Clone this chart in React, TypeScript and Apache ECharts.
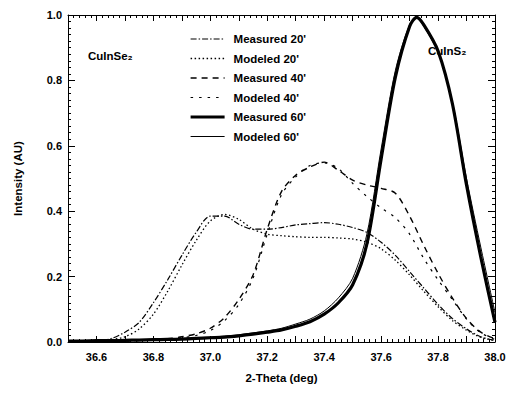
import React, { useEffect, useRef } from "react";
import * as echarts from "echarts";

const X = [
  36.5, 36.55, 36.6, 36.65, 36.7, 36.75, 36.8, 36.85, 36.9, 36.95, 37.0,
  37.05, 37.1, 37.15, 37.2, 37.25, 37.3, 37.35, 37.4, 37.45, 37.5,
  37.55, 37.6, 37.65, 37.7, 37.75, 37.8, 37.85, 37.9, 37.95, 38.0,
];
const X60 = [
  36.5, 36.55, 36.6, 36.65, 36.7, 36.75, 36.8, 36.85, 36.9, 36.95, 37.0,
  37.05, 37.1, 37.15, 37.2, 37.25, 37.3, 37.35, 37.4, 37.45, 37.5,
  37.55, 37.6, 37.65, 37.7, 37.725, 37.75, 37.8, 37.85, 37.9, 37.95, 38.0,
];

const measured20 = [
  0.0, 0.002, 0.004, 0.01, 0.03, 0.06, 0.12, 0.19, 0.265, 0.335, 0.385,
  0.385, 0.36, 0.345, 0.345, 0.35, 0.358, 0.362, 0.365, 0.36, 0.35,
  0.335, 0.305, 0.265, 0.215, 0.165, 0.115, 0.072, 0.04, 0.016, 0.005,
];
const modeled20 = [
  0.0, 0.001, 0.003, 0.007, 0.016, 0.04, 0.085, 0.155, 0.235, 0.31, 0.37,
  0.39, 0.375, 0.345, 0.33, 0.325, 0.322, 0.32, 0.32, 0.318, 0.315,
  0.305, 0.285, 0.25, 0.205, 0.155, 0.108, 0.066, 0.036, 0.014, 0.004,
];
const measured40 = [
  0.0, 0.0, 0.001, 0.002, 0.003, 0.005, 0.007, 0.01, 0.016, 0.025, 0.042,
  0.075, 0.13, 0.205, 0.345, 0.46, 0.51, 0.535, 0.55, 0.525, 0.495,
  0.48, 0.47, 0.455, 0.385, 0.295, 0.21, 0.135, 0.072, 0.03, 0.01,
];
const modeled40 = [
  0.0, 0.0, 0.001, 0.001, 0.002, 0.004, 0.006, 0.008, 0.013, 0.02, 0.035,
  0.065, 0.115, 0.195, 0.33, 0.45, 0.505, 0.54, 0.548, 0.53, 0.485,
  0.445, 0.41, 0.38, 0.33, 0.255, 0.19, 0.13, 0.07, 0.028, 0.008,
];
const measured60 = [
  0.003, 0.003, 0.004, 0.004, 0.005, 0.006, 0.007, 0.008, 0.009, 0.011, 0.013,
  0.015, 0.019, 0.024, 0.03, 0.037, 0.048, 0.062, 0.085, 0.12, 0.175,
  0.3, 0.56, 0.81, 0.965, 0.993, 0.97, 0.89, 0.73, 0.48, 0.26, 0.06,
];
const modeled60 = [
  0.004, 0.004, 0.005, 0.005, 0.006, 0.007, 0.008, 0.009, 0.011, 0.013, 0.015,
  0.018, 0.022, 0.028, 0.034, 0.042, 0.055, 0.07, 0.095, 0.135, 0.195,
  0.33, 0.59, 0.83, 0.97, 0.99, 0.965, 0.885, 0.735, 0.5, 0.29, 0.09,
];

const seriesNames = [
  "Measured 20'",
  "Modeled 20'",
  "Measured 40'",
  "Modeled 40'",
  "Measured 60'",
  "Modeled 60'",
];
const xTickLabels = ["36.6", "36.8", "37.0", "37.2", "37.4", "37.6", "37.8", "38.0"];

const FONT = "'Liberation Sans', 'DejaVu Sans', Arial, sans-serif";

export default function App() {
  const ref = useRef<HTMLDivElement>(null);
  useEffect(() => {
    if (!ref.current) return;
    const chart = echarts.init(ref.current, undefined, { renderer: "svg" });
    const pair = (xs: number[], ys: number[]) => xs.map((x, i) => [x, ys[i]]);
    const styles = [
      { width: 1.2, type: [6, 2, 1.5, 2] as any },
      { width: 1.3, type: [1.5, 2.5] as any },
      { width: 1.4, type: [6, 5] as any },
      { width: 1.2, type: [2.5, 6] as any },
      { width: 3.2, type: "solid" as any },
      { width: 1, type: "solid" as any },
    ];
    const data = [
      pair(X, measured20),
      pair(X, modeled20),
      pair(X, measured40),
      pair(X, modeled40),
      pair(X60, measured60),
      pair(X60, modeled60),
    ];
    const xAxisCommon = {
      type: "value",
      min: 36.5,
      max: 38.0,
      interval: 0.1,
      splitLine: { show: false },
      axisLine: { show: true, onZero: false, lineStyle: { color: "#000", width: 1 } },
      axisTick: { show: true, inside: true, length: 6, lineStyle: { color: "#000" } },
      minorTick: { show: true, splitNumber: 5, length: 3, lineStyle: { color: "#000" } },
    };
    const yAxisCommon = {
      type: "value",
      min: 0,
      max: 1,
      interval: 0.2,
      splitLine: { show: false },
      axisLine: { show: true, onZero: false, lineStyle: { color: "#000", width: 1 } },
      axisTick: { show: true, inside: true, length: 7, lineStyle: { color: "#000" } },
      minorTick: { show: true, splitNumber: 10, length: 3, lineStyle: { color: "#000" } },
    };
    chart.setOption({
      animation: false,
      backgroundColor: "#fff",
      grid: { left: 68, right: 14, top: 15, bottom: 54, containLabel: false },
      legend: {
        orient: "vertical",
        left: 184,
        top: 28,
        itemWidth: 34,
        itemHeight: 10,
        itemGap: 7.5,
        data: seriesNames.map((name, i) => ({
          name,
          lineStyle: { width: styles[i].width, type: styles[i].type },
        })),
        itemStyle: { opacity: 0 },
        textStyle: { fontFamily: FONT, fontSize: 11.5, fontWeight: "bold", color: "#000", padding: [0, 0, 0, 4] },
      },
      xAxis: [
        {
          ...xAxisCommon,
          position: "bottom",
          name: "2-Theta (deg)",
          nameLocation: "middle",
          nameGap: 30,
          nameTextStyle: { fontFamily: FONT, fontSize: 11.5, fontWeight: "bold", color: "#000" },
          axisLabel: {
            show: true,
            margin: 9,
            fontFamily: FONT,
            fontSize: 11,
            fontWeight: "bold",
            color: "#000",
            formatter: (v: number) => {
              const s = v.toFixed(1);
              return xTickLabels.indexOf(s) >= 0 ? s : "";
            },
          },
        },
        {
          ...xAxisCommon,
          position: "top",
          axisLabel: { show: false },
        },
      ],
      yAxis: [
        {
          ...yAxisCommon,
          position: "left",
          name: "Intensity (AU)",
          nameLocation: "middle",
          nameGap: 44,
          nameRotate: 90,
          nameTextStyle: { fontFamily: FONT, fontSize: 11.5, fontWeight: "bold", color: "#000" },
          axisLabel: {
            show: true,
            margin: 6,
            fontFamily: FONT,
            fontSize: 11,
            fontWeight: "bold",
            color: "#000",
            formatter: (v: number) => v.toFixed(1),
          },
        },
        {
          ...yAxisCommon,
          position: "right",
          axisLabel: { show: false },
        },
      ],
      series: seriesNames.map((name, i) => ({
        name,
        type: "line",
        xAxisIndex: 0,
        yAxisIndex: 0,
        data: data[i],
        symbol: "none",
        smooth: 0.3,
        lineStyle: { color: "#000", width: styles[i].width, type: styles[i].type },
        itemStyle: { color: "#000" },
        z: i === 4 ? 3 : 4,
      })),
      graphic: [
        {
          type: "text",
          left: 88,
          top: 50,
          style: { text: "CuInSe₂", fontFamily: FONT, fontSize: 11.5, fontWeight: "bold", fill: "#000" },
        },
        {
          type: "text",
          left: 428,
          top: 45,
          style: { text: "CuInS₂", fontFamily: FONT, fontSize: 11.5, fontWeight: "bold", fill: "#000" },
        },
      ],
    });
    return () => chart.dispose();
  }, []);
  return <div ref={ref} style={{ width: 509, height: 396, position: "absolute", left: 0, top: 0 }} />;
}
